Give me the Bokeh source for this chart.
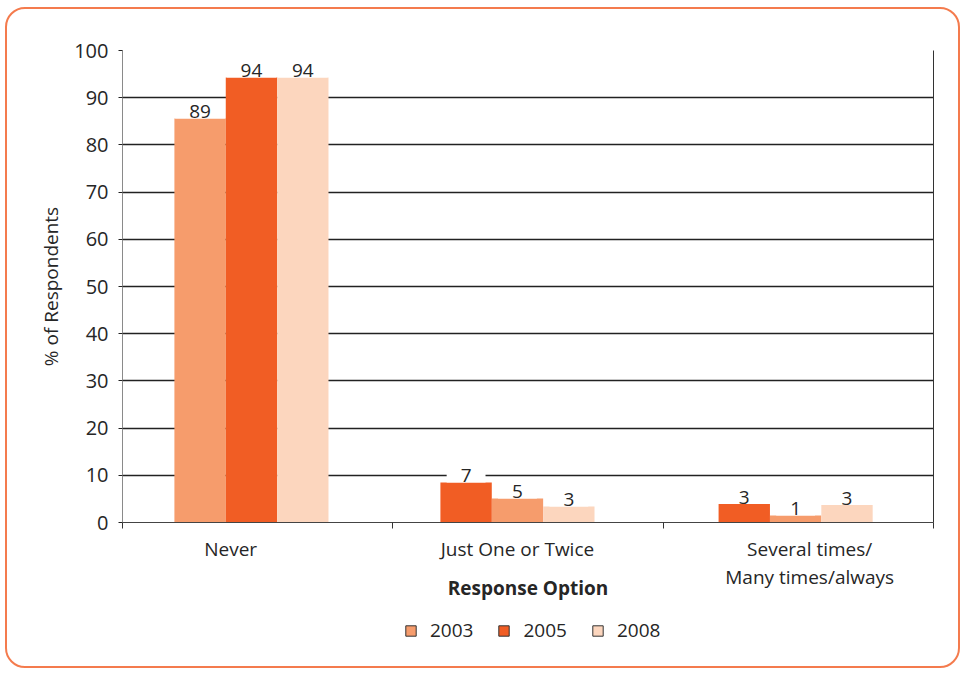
from bokeh.plotting import figure
from bokeh.layouts import column
from bokeh.models import (ColumnDataSource, FixedTicker, LinearAxis, Legend,
                          LegendItem, Range1d, InlineStyleSheet)
from bokeh.core.properties import value
from bokeh.embed import file_html
from bokeh.resources import INLINE

# ---------------- data ----------------
categories = ["Never", "Just One or Twice", "Several times/\nMany times/always"]
years = ["2003", "2005", "2008"]
height_2003 = [85.6, 5.1, 1.5]
height_2005 = [94.3, 8.5, 3.9]
height_2008 = [94.3, 3.4, 3.7]
label_2003 = ["89", "5", "1"]
label_2005 = ["94", "7", "3"]
label_2008 = ["94", "3", "3"]
y_ticks = [0, 10, 20, 30, 40, 50, 60, 70, 80, 90, 100]

heights = {"2003": height_2003, "2005": height_2005, "2008": height_2008}
labels = {"2003": label_2003, "2005": label_2005, "2008": label_2008}

# ---------------- style / layout ----------------
FONT = "Open Sans"
TEXT = "#262626"
colors = {"2003": "#F69C6C", "2005": "#F15D24", "2008": "#FCD6BE"}
slot = {"2003": [0, 1, 1], "2005": [1, 0, 0], "2008": [2, 2, 2]}
group_shift = [-0.023, -0.039, -0.01]
label_shift = [-0.10, -0.039, 0.042]
BAR_W = 0.19
MAIN_H = 610
LEG_H = 673 - MAIN_H

p = figure(frame_width=811, frame_height=472,
           x_range=Range1d(0, 3), y_range=Range1d(0, 100),
           x_axis_type=None, output_backend="svg", toolbar_location=None,
           min_border_left=122, min_border_right=30, min_border_top=50,
           min_border_bottom=MAIN_H - 522)
p.background_fill_color = "white"
p.border_fill_color = "white"
p.outline_line_color = None

# y axis
yax = p.yaxis[0]
yax.ticker = FixedTicker(ticks=y_ticks)
yax.major_tick_out = 4
yax.major_tick_in = 0
yax.minor_tick_line_color = None
yax.major_tick_line_color = "#222222"
yax.axis_line_color = "#8a8a8a"
yax.major_label_text_font = FONT
yax.major_label_text_font_size = "20px"
yax.major_label_text_color = TEXT
yax.major_label_standoff = 10
yax.axis_label = "% of Respondents"
yax.axis_label_text_font = FONT
yax.axis_label_text_font_size = "19px"
yax.axis_label_text_font_style = "normal"
yax.axis_label_text_color = TEXT
yax.axis_label_standoff = 7

p.ygrid.ticker = FixedTicker(ticks=y_ticks)
p.ygrid.grid_line_color = "#222222"
p.ygrid.grid_line_width = 1.3

# right border line
rax = LinearAxis(ticker=FixedTicker(ticks=[]), axis_line_color="#333333",
                 major_tick_line_color=None, minor_tick_line_color=None,
                 major_label_text_font_size="1px")
p.add_layout(rax, "right")

# separator axis (bottom line with category boundary ticks)
sep_axis = LinearAxis(ticker=FixedTicker(ticks=[0, 1, 2, 3]),
                      major_tick_out=6, major_tick_in=0,
                      major_tick_line_color="#333333",
                      minor_tick_line_color=None,
                      axis_line_color="#444444",
                      major_label_overrides={0: "", 1: "", 2: "", 3: ""},
                      major_label_text_font_size="1px",
                      major_label_standoff=0)
p.add_layout(sep_axis, "below")

# category label axis
label_x = [i + 0.5 + label_shift[i] for i in range(len(categories))]
cat_axis = LinearAxis(ticker=FixedTicker(ticks=label_x),
                      major_label_overrides={x: c for x, c in zip(label_x, categories)},
                      major_tick_line_color=None, major_tick_out=0, major_tick_in=0,
                      minor_tick_line_color=None, axis_line_color=None,
                      major_label_text_font=FONT, major_label_text_font_size="19px",
                      major_label_text_color=TEXT, major_label_standoff=7,
                      major_label_text_line_height=1.1,
                      axis_label="Response Option", axis_label_text_font=FONT,
                      axis_label_text_font_size="19px",
                      axis_label_text_font_style="bold",
                      axis_label_text_color=TEXT, axis_label_standoff=-18)
p.add_layout(cat_axis, "below")

# bars + value labels
for yr in years:
    xs = [g + 0.5 + group_shift[g] + (slot[yr][g] - 1) * BAR_W
          for g in range(len(categories))]
    src = ColumnDataSource(dict(x=xs, top=heights[yr], label=labels[yr]))
    p.vbar(x="x", top="top", bottom=0, width=BAR_W, source=src,
           fill_color=colors[yr], line_color=None)
    p.text(x="x", y="top", text="label", source=src, text_align="center",
           text_baseline="bottom", text_font=value(FONT), text_font_size="19px",
           text_color=TEXT, background_fill_color="white",
           padding=dict(left=14, right=14, top=0, bottom=0))

# legend strip (separate small figure below the chart)
lp = figure(width=963, height=LEG_H, x_range=Range1d(0, 1), y_range=Range1d(0, 1),
            x_axis_type=None, y_axis_type=None, output_backend="svg",
            toolbar_location=None, min_border=0)
lp.outline_line_color = None
lp.background_fill_color = "white"
lp.border_fill_color = "white"
lp.xgrid.visible = False
lp.ygrid.visible = False
items = []
for yr in years:
    # hidden swatch renderer: only its legend glyph is shown
    r = lp.vbar(x=[0.5], top=[0.5], width=0.1, fill_color=colors[yr],
                line_color="#333333", line_width=1, visible=False)
    items.append(LegendItem(label=yr, renderers=[r]))
legend = Legend(items=items, orientation="horizontal", location=(282, 30),
                glyph_width=13, glyph_height=13, label_standoff=13, spacing=24,
                label_text_font=FONT, label_text_font_size="19px",
                label_text_color=TEXT, border_line_color=None,
                background_fill_alpha=0, padding=0, margin=0,
                inactive_fill_alpha=0)
lp.add_layout(legend, "center")

layout = column(p, lp, spacing=0)
layout.stylesheets = [InlineStyleSheet(css="""
:host { position: relative; }
:host::after {
  content: "";
  position: absolute;
  left: 5px; top: 7px; width: 951px; height: 657px;
  border: 2px solid #F47B4D;
  border-radius: 20px;
  z-index: 1000;
  pointer-events: none;
}
""")]

open("out.html", "w").write(file_html(layout, INLINE))
